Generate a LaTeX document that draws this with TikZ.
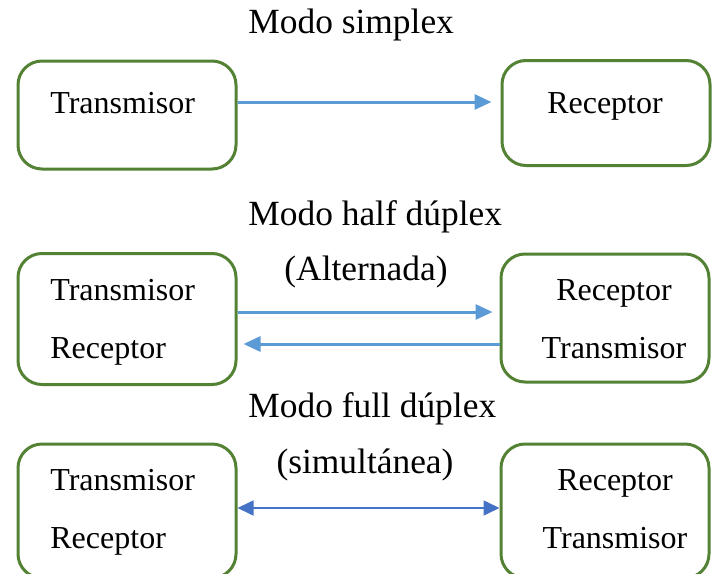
\documentclass[tikz,border=0pt]{standalone}
\usepackage{fontspec}
\setmainfont{Liberation Serif}
\usetikzlibrary{arrows.meta}
\definecolor{verde}{RGB}{84,130,53}
\definecolor{azul}{RGB}{91,155,213}
\definecolor{azuloscuro}{RGB}{68,114,196}

\begin{document}
\begin{tikzpicture}[x=0.5pt, y=-0.5pt,
  caja/.style={draw=verde, line width=1.5pt, rounded corners=12pt, inner sep=0pt},
  texto/.style={font=\fontsize{16}{18}\selectfont, inner sep=0pt},
  titulo/.style={font=\fontsize{17.7}{20}\selectfont, inner sep=0pt},
  flecha/.style={draw=azul, line width=1.5pt, -{Triangle[length=8.5pt, width=7.5pt]}},
  dobleflecha/.style={draw=azuloscuro, line width=0.8pt, {Triangle[length=8pt, width=7.5pt]}-{Triangle[length=8pt, width=7.5pt]}}]
  \useasboundingbox (0,0) rectangle (712,573);
  \clip (0,0) rectangle (712,573);
  % Modo simplex
  \node[titulo, anchor=base west] (tit1) at (248,33) {Modo simplex};
  \node[caja, minimum width=109pt, minimum height=54pt] (c1i) at (127,115) {};
  \node[caja, minimum width=104pt, minimum height=52.5pt] (c1d) at (606,113) {};
  \node[texto, anchor=base west] (t1i) at (50,113) {Transmisor};
  \node[texto, anchor=base] (t1d) at (605,113) {Receptor};
  \draw[flecha, shorten >=4.5pt] (c1i.east |- 0,102) -- (c1d.west |- 0,102);
  % Modo half duplex
  \node[titulo, anchor=base west] (tit2) at (248,225) {Modo half dúplex};
  \node[titulo, anchor=base] (sub2) at (366,280) {(Alternada)};
  \node[caja, minimum width=109pt, minimum height=65.5pt] (c2i) at (127,319) {};
  \node[caja, minimum width=104pt, minimum height=64pt] (c2d) at (605,318) {};
  \node[texto, anchor=base west] (t2ia) at (50,300) {Transmisor};
  \node[texto, anchor=base west] (t2ib) at (50,358) {Receptor};
  \node[texto, anchor=base] (t2da) at (614,300) {Receptor};
  \node[texto, anchor=base] (t2db) at (614,358) {Transmisor};
  \draw[flecha, shorten >=3.5pt] (c2i.east |- 0,312) -- (c2d.west |- 0,312);
  \draw[flecha, shorten >=3pt] (c2d.west |- 0,344) -- (c2i.east |- 0,344);
  % Modo full duplex
  \node[titulo, anchor=base west] (tit3) at (248,417) {Modo full dúplex};
  \node[titulo, anchor=base] (sub3) at (365,473) {(simultánea)};
  \node[caja, minimum width=109pt, minimum height=67pt] (c3i) at (127,511) {};
  \node[caja, minimum width=104pt, minimum height=67pt] (c3d) at (605,511) {};
  \node[texto, anchor=base west] (t3ia) at (50,490) {Transmisor};
  \node[texto, anchor=base west] (t3ib) at (50,548) {Receptor};
  \node[texto, anchor=base] (t3da) at (615,490) {Receptor};
  \node[texto, anchor=base] (t3db) at (615,548) {Transmisor};
  \draw[dobleflecha] (c3i.east |- 0,508) -- (c3d.west |- 0,508);
\end{tikzpicture}
\end{document}
